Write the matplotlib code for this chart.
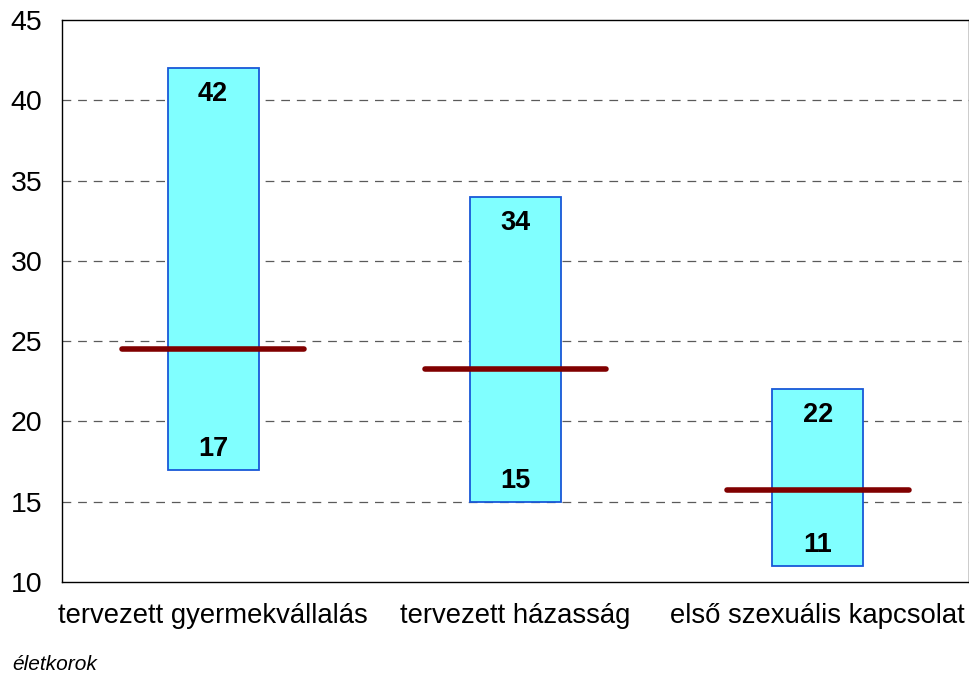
import matplotlib
matplotlib.use("Agg")
import matplotlib.pyplot as plt

plt.rcParams['font.family'] = ['Liberation Sans', 'DejaVu Sans']

categories = ["tervezett gyermekvállalás", "tervezett házasság", "első szexuális kapcsolat"]
mins = [17, 15, 11]
maxs = [42, 34, 22]
means = [24.5, 23.25, 15.7]
yticks = [10, 15, 20, 25, 30, 35, 40, 45]

fig = plt.figure(figsize=(9.7, 6.74), dpi=100)
ax = fig.add_axes([62/970, 1 - 582/674, (969-62)/970, (582-20)/674])

x = list(range(len(categories)))
heights = [mx - mn for mn, mx in zip(mins, maxs)]
ax.bar(x, heights, bottom=mins, width=0.30, color="#80FFFF", edgecolor="#1858D8",
       linewidth=1.3, zorder=3)

for xi, m in zip(x, means):
    ax.plot([xi - 0.30, xi + 0.30], [m, m], color="#800000", linewidth=4.0,
            solid_capstyle="round", zorder=4)

for xi, mn, mx in zip(x, mins, maxs):
    ax.annotate(str(mx), (xi, mx), xytext=(0, -26), textcoords="offset pixels",
                ha="center", va="center", fontsize=19.5, fontweight="bold", zorder=5)
    ax.annotate(str(mn), (xi, mn), xytext=(0, 21), textcoords="offset pixels",
                ha="center", va="center", fontsize=19.5, fontweight="bold", zorder=5)

ax.set_xlim(-0.5, 2.5)
ax.set_ylim(10, 45)
ax.set_yticks(yticks)
ax.set_xticks(x)
ax.set_xticklabels(categories, fontsize=19.8)
ax.tick_params(axis="y", labelsize=20.5, length=0, pad=14)
ax.tick_params(axis="x", length=0, pad=15)
for yv in yticks[1:-1]:
    ax.axhline(yv, color="#5a5a5a", linestyle=(0, (7, 5.5)), linewidth=0.9, zorder=1)
for s in ax.spines.values():
    s.set_color("black")
    s.set_linewidth(1.0)

fig.text(12/970, 1 - 664/674, "életkorok", fontsize=15, style="italic", va="center", ha="left")

fig.savefig("out.png", dpi=100)
